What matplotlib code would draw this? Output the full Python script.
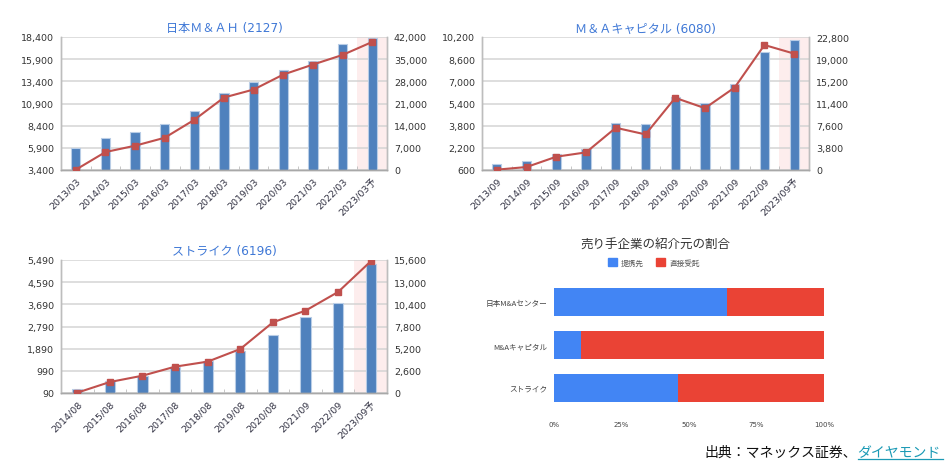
"""Three M&A brokers: sales (bars) / profit line, plus referral-source share chart.

Output: out.png (949x464)
"""
import numpy as np
import matplotlib.pyplot as plt
from matplotlib.patches import Patch
from matplotlib.lines import Line2D
from matplotlib.ticker import StrMethodFormatter

W, H = 949, 464

BAR = "#4f81bd"
BAR_EDGE = "#b9cde6"
LINE = "#c0504d"
SPAN = "#fdeded"
GRID = "#d4d4d4"
SPINE = "#bdbdbd"
TITLE = "#3f78d6"
TXT = "#333333"
JP = ["Noto Sans CJK JP", "DejaVu Sans"]
NUM = ["DejaVu Sans", "Noto Sans CJK JP"]

# ---- data -------------------------------------------------------------
nihon_labels = ["2013/03", "2014/03", "2015/03", "2016/03", "2017/03", "2018/03",
                "2019/03", "2020/03", "2021/03", "2022/03", "2023/03予"]
nihon_bars = [5840, 7040, 7640, 8540, 10040, 12030, 13340, 14690, 15700, 17580, 18290]
nihon_line = [100, 5670, 7670, 10190, 15860, 22890, 25410, 30140, 33290, 36330, 40430]

capital_labels = ["2013/09", "2014/09", "2015/09", "2016/09", "2017/09", "2018/09",
                  "2019/09", "2020/09", "2021/09", "2022/09", "2023/09予"]
capital_bars = [1060, 1250, 1730, 2090, 4010, 3890, 5900, 5470, 6840, 9140, 9980]
capital_line = [60, 510, 2280, 3020, 7240, 6100, 12370, 10600, 14140, 21430, 19950]

strike_labels = ["2014/08", "2015/08", "2016/08", "2017/08", "2018/08", "2019/08",
                 "2020/08", "2021/09", "2022/09", "2023/09予"]
strike_bars = [270, 590, 780, 1150, 1390, 1800, 2440, 3180, 3760, 5330]
strike_line = [40, 1290, 2030, 3090, 3680, 5160, 8290, 9660, 11850, 15440]

share_companies = ["日本M&Aセンター", "M&Aキャピタル", "ストライク"]
share_partner = [64, 10, 46]   # 提携先
share_direct = [36, 90, 54]    # 直接受託


def rect(l, t, r, b):
    return [l / W, 1 - b / H, (r - l) / W, (b - t) / H]


def combo(fig, pos, title, labels, bars, line, left_rng, right_rng):
    ax = fig.add_axes(pos)
    n = len(labels)
    x = np.arange(n)
    ax.axvspan(n - 1.5, n - 0.5, color=SPAN, zorder=0.2, lw=0)
    ax.bar(x, bars, width=0.31, color=BAR, edgecolor=BAR_EDGE, linewidth=0.8, zorder=2)
    ax.set_xlim(-0.5, n - 0.5)
    lo, hi, step = left_rng
    ax.set_ylim(lo, hi)
    ax.set_yticks(np.arange(lo, hi + 1, step))
    ax.yaxis.set_major_formatter(StrMethodFormatter("{x:,.0f}"))
    ax.grid(axis="y", color=GRID, lw=1.1)
    ax.set_axisbelow(True)

    ax.set_xticks(x)
    ax.set_xticklabels(labels, rotation=45, ha="right", rotation_mode="anchor",
                       fontsize=6.8, color="#333344", family=NUM)
    ax.set_xticks(np.arange(-0.5, n, 1.0), minor=True)
    ax.tick_params(axis="x", which="major", length=0, pad=4)
    ax.tick_params(axis="x", which="minor", direction="in", length=3, color=SPINE)
    ax.tick_params(axis="y", length=0, pad=5, labelsize=6.8, labelcolor=TXT)

    ax2 = ax.twinx()
    ax2.plot(x, line, color=LINE, lw=1.5, marker="s", ms=4, zorder=3)
    lo, hi, step = right_rng
    ax2.set_ylim(lo, hi)
    ax2.set_yticks(np.arange(lo, hi + 1, step))
    ax2.yaxis.set_major_formatter(StrMethodFormatter("{x:,.0f}"))
    ax2.tick_params(axis="y", length=0, pad=5, labelsize=6.8, labelcolor=TXT)

    for a in (ax, ax2):
        a.spines["top"].set_visible(False)
        a.spines["left"].set_color(SPINE)
        a.spines["right"].set_color(SPINE)
        a.spines["bottom"].set_color("#a8a8a8")
        for s in ("left", "right", "bottom"):
            a.spines[s].set_linewidth(1.0)
        for t in a.get_yticklabels():
            t.set_family(NUM)

    ax.set_title(title, fontsize=8.7, color=TITLE, family=NUM, pad=4)
    return ax


def main():
    fig = plt.figure(figsize=(W / 100, H / 100), dpi=100)

    combo(fig, rect(61, 38, 387, 171), "日本Ｍ＆ＡＨ (2127)",
          nihon_labels, nihon_bars, nihon_line, (3400, 18400, 2500), (0, 42000, 7000))
    combo(fig, rect(482, 38, 809, 171), "Ｍ＆Ａキャピタル (6080)",
          capital_labels, capital_bars, capital_line, (600, 10200, 1600), (0, 22800, 3800))
    combo(fig, rect(61, 261, 387, 394), "ストライク (6196)",
          strike_labels, strike_bars, strike_line, (90, 5490, 900), (0, 15600, 2600))

    # ---- referral source share -----------------------------------------
    axS = fig.add_axes(rect(554, 282, 824, 410))
    y = np.arange(len(share_companies))
    axS.barh(y, share_partner, height=0.66, color="#4285f4", label="提携先")
    axS.barh(y, share_direct, left=share_partner, height=0.66, color="#ea4335",
             label="直接受託")
    axS.set_xlim(0, 100)
    axS.set_ylim(len(share_companies) - 0.5, -0.5)
    axS.set_yticks(y)
    axS.set_yticklabels(share_companies, fontsize=5.5, color="#444444", family=JP)
    axS.set_xticks([0, 25, 50, 75, 100])
    axS.set_xticklabels(["0%", "25%", "50%", "75%", "100%"], fontsize=5,
                        color="#444444")
    axS.tick_params(length=0)
    axS.tick_params(axis="x", pad=9)
    axS.tick_params(axis="y", pad=5)
    for s in axS.spines.values():
        s.set_visible(False)

    fig.text(655 / W, 1 - 245 / H, "売り手企業の紹介元の割合", ha="center", va="center",
             fontsize=9, color=TXT, family=JP)
    handles = [Patch(color="#4285f4", label="提携先"),
               Patch(color="#ea4335", label="直接受託")]
    fig.legend(handles=handles, loc="center", bbox_to_anchor=(654 / W, 1 - 263.5 / H),
               ncol=2, frameon=False, prop={"family": JP, "size": 5.5},
               handlelength=1.1, handleheight=1.1, handletextpad=0.6,
               columnspacing=1.6, labelcolor="#555555")

    # ---- source ---------------------------------------------------------
    fig.text(857 / W, 1 - 453 / H, "出典：マネックス証券、", ha="right", va="center",
             fontsize=10, color="#111111", family=JP)
    fig.text(857 / W, 1 - 453 / H, "ダイヤモンド", ha="left", va="center",
             fontsize=10, color="#1b9ab5", family=JP)
    fig.add_artist(Line2D([858 / W, 943 / W], [1 - 460 / H, 1 - 460 / H],
                          transform=fig.transFigure, color="#1b9ab5", lw=0.9))

    fig.savefig("out.png", dpi=100, facecolor="white")
    plt.close(fig)


if __name__ == "__main__":
    main()
